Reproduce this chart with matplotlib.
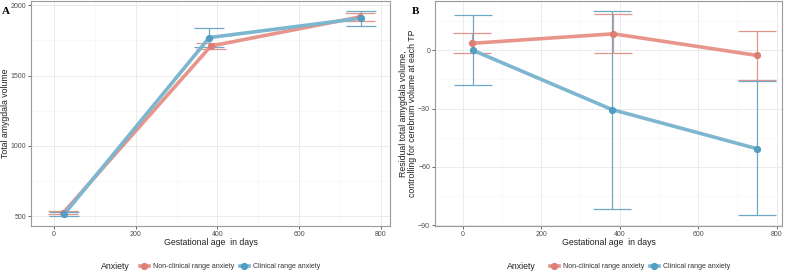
import matplotlib
matplotlib.use("Agg")
import matplotlib.pyplot as plt
from matplotlib.lines import Line2D
from matplotlib.ticker import MultipleLocator

plt.rcParams["font.family"] = ["Liberation Sans", "DejaVu Sans"]

# ---- data ----
groups = ["Non-clinical range anxiety", "Clinical range anxiety"]
age_nc = [23, 384, 749]
age_cr = [25, 380, 750]

# Panel A: total amygdala volume
volA_nc = [525, 1710, 1917]
loA_nc = [518, 1691, 1891]
hiA_nc = [535, 1730, 1943]
volA_cr = [515, 1770, 1907]
loA_cr = [505, 1700, 1853]
hiA_cr = [528, 1841, 1962]

# Panel B: residual volume
resB_nc = [3.6, 8.5, -2.6]
loB_nc = [-1.5, -1.5, -15.3]
hiB_nc = [8.7, 18.6, 9.9]
resB_cr = [0.1, -30.5, -50.7]
loB_cr = [-17.8, -81.5, -85.0]
hiB_cr = [18.0, 20.3, -15.8]

xticks = [0, 200, 400, 600, 800]

# ---- style ----
line_c = ["#E8958C", "#7DB6CF"]
pt_c = ["#DD7E75", "#519EC2"]
err_c = ["#E3958C", "#6EAAC6"]
grid_c = "#EBEBEB"
tick_c = "#4D4D4D"

fig = plt.figure(figsize=(7.94, 2.73), dpi=100)
W, H = 794, 273
def rect(l, t, r, b):
    return [l / W, 1 - b / H, (r - l) / W, (b - t) / H]

axA = fig.add_axes(rect(31, 1, 390, 226))
axB = fig.add_axes(rect(435, 1, 782, 226))

def style(ax):
    for s in ax.spines.values():
        s.set_color("#9A9A9A")
        s.set_linewidth(0.8)
    ax.tick_params(axis="both", labelsize=5.0, colors=tick_c, length=2.5, width=0.6,
                   pad=1.0, labelcolor="#4D4D4D")
    ax.grid(True, which="major", color=grid_c, linewidth=0.7)
    ax.grid(True, which="minor", color="#F4F4F4", linewidth=0.4)
    ax.tick_params(which="minor", length=0)
    ax.set_axisbelow(True)
    ax.set_xticks(xticks)
    ax.xaxis.set_minor_locator(MultipleLocator(100))
    ax.set_xlabel("Gestational age  in days", fontsize=6.3, color="#222222", va="center")
    ax.xaxis.set_label_coords(0.5, -16.5 / 225)

def draw(ax, ys, capsize):
    for i, (x, y, lo, hi) in enumerate(ys):
        yerr = [[yy - l for yy, l in zip(y, lo)], [h - yy for yy, h in zip(y, hi)]]
        ax.errorbar(x, y, yerr=yerr, fmt="none", ecolor=err_c[i], elinewidth=0.9,
                    capsize=capsize, capthick=0.9, zorder=2)
    for i, (x, y, lo, hi) in enumerate(ys):
        ax.plot(x, y, color=line_c[i], linewidth=2.6, solid_capstyle="round", zorder=3)
        ax.plot(x, y, "o", color=pt_c[i], markersize=4.2, zorder=4)

draw(axA, [(age_nc, volA_nc, loA_nc, hiA_nc), (age_cr, volA_cr, loA_cr, hiA_cr)], 11)
style(axA)
axA.set_xlim(-56, 822)
axA.set_ylim(431, 2030)
axA.set_yticks([500, 1000, 1500, 2000])
axA.yaxis.set_minor_locator(MultipleLocator(250))
axA.set_ylabel("Total amygdala volume", fontsize=6.3, color="#222222", va="center")
axA.yaxis.set_label_coords(-25 / 359, 0.5)

draw(axB, [(age_nc, resB_nc, loB_nc, hiB_nc), (age_cr, resB_cr, loB_cr, hiB_cr)], 14)
style(axB)
axB.set_xlim(-70.6, 813.5)
axB.set_ylim(-90.5, 25.4)
axB.set_yticks([-90, -60, -30, 0])
axB.yaxis.set_minor_locator(MultipleLocator(15))
axB.set_ylabel("Residual total amygdala volume,\ncontrolling for cerebrum volume at each TP",
               fontsize=6.3, color="#222222", linespacing=1.0, va="center")
axB.yaxis.set_label_coords(-27.5 / 347, 0.5)

# panel letters
fig.text(6 / W, 1 - 12 / H, "A", fontsize=8, fontweight="bold", family="Liberation Serif",
         ha="center", va="center")
fig.text(416 / W, 1 - 12 / H, "B", fontsize=8, fontweight="bold", family="Liberation Serif",
         ha="center", va="center")

# legends
handles = [Line2D([0], [0], color=line_c[i], linewidth=2.6, marker="o",
                  markerfacecolor=pt_c[i], markeredgecolor=pt_c[i], markersize=4.2)
           for i in range(2)]
for cx, tx in [(230, 115), (640, 521)]:
    fig.text(tx / W, 1 - 266.5 / H, "Anxiety", fontsize=6.3, color="#222222",
             ha="center", va="center")
    fig.legend(handles, groups, loc="center", bbox_to_anchor=(cx / W, 1 - 266.5 / H),
               ncol=2, frameon=False, fontsize=5.0, handlelength=1.3, handletextpad=0.6,
               columnspacing=0.8, labelcolor="#333333")

fig.savefig("out.png", dpi=100)
